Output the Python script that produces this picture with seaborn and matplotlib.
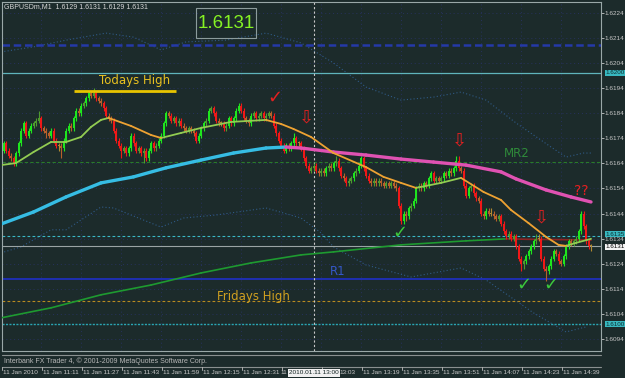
import numpy as np
import pandas as pd
import matplotlib
matplotlib.use("Agg")
import matplotlib.pyplot as plt
import seaborn as sns
from matplotlib.lines import Line2D
from matplotlib.patches import Rectangle

sns.set_style("dark")
plt.rcParams['font.family'] = ['Liberation Sans', 'DejaVu Sans']

BG = '#1c2b2b'
W, H = 625, 378

# ---------------- data (GBPUSDm M1, 11 Jan 2010, bars from 10:56) ----------------
first_open = 1.6169
closes = [1.6172,1.6169,1.6167,1.6166,1.6164,1.6168,1.6172,1.6177,1.6180,1.6175,
          1.6177,1.6179,1.6180,1.6181,1.6182,1.6178,1.6177,1.6176,1.6175,1.6177,
          1.6173,1.6171,1.6171,1.6170,1.6173,1.6177,1.6179,1.6178,1.6182,1.6185,
          1.6184,1.6187,1.6188,1.6190,1.6192,1.6191,1.6192,1.6190,1.6189,1.6188,
          1.6186,1.6183,1.6182,1.6181,1.6177,1.6173,1.6171,1.6169,1.6170,1.6168,
          1.6170,1.6175,1.6172,1.6169,1.6170,1.6168,1.6169,1.6166,1.6169,1.6172,
          1.6170,1.6171,1.6173,1.6175,1.6180,1.6184,1.6183,1.6181,1.6182,1.6180,
          1.6181,1.6179,1.6178,1.6177,1.6178,1.6177,1.6176,1.6173,1.6175,1.6178,
          1.6180,1.6181,1.6185,1.6186,1.6184,1.6181,1.6180,1.6180,1.6178,1.6179,
          1.6182,1.6180,1.6182,1.6185,1.6187,1.6185,1.6182,1.6181,1.6180,1.6183,
          1.6184,1.6182,1.6183,1.6184,1.6182,1.6183,1.6184,1.6183,1.6179,1.6176,
          1.6173,1.6171,1.6169,1.6171,1.6170,1.6172,1.6174,1.6172,1.6172,1.6170,
          1.6166,1.6163,1.6161,1.6162,1.6163,1.6161,1.6160,1.6161,1.6160,1.6162,
          1.6163,1.6162,1.6164,1.6165,1.6162,1.6159,1.6158,1.6156,1.6157,1.6158,
          1.6160,1.6161,1.6163,1.6166,1.6162,1.6159,1.6157,1.6156,1.6157,1.6156,
          1.6157,1.6156,1.6155,1.6156,1.6155,1.6156,1.6155,1.6154,1.6147,1.6141,
          1.6144,1.6143,1.6146,1.6147,1.6149,1.6154,1.6155,1.6154,1.6156,1.6155,
          1.6158,1.6160,1.6157,1.6158,1.6157,1.6158,1.6160,1.6159,1.6161,1.6160,
          1.6162,1.6165,1.6162,1.6161,1.6155,1.6151,1.6154,1.6155,1.6152,1.6150,
          1.6149,1.6144,1.6143,1.6145,1.6144,1.6144,1.6143,1.6142,1.6143,1.6140,
          1.6137,1.6135,1.6136,1.6134,1.6135,1.6131,1.6126,1.6124,1.6125,1.6127,
          1.6129,1.6131,1.6133,1.6134,1.6134,1.6126,1.6122,1.6121,1.6123,1.6126,
          1.6129,1.6128,1.6125,1.6124,1.6127,1.6131,1.6133,1.6132,1.6133,1.6134,
          1.6137,1.6144,1.6139,1.6133,1.6131,1.6131]
highs = [1.6173,1.6173,1.6170,1.6168,1.6167,1.6169,1.6173,1.6178,1.6181,1.6181,
         1.6178,1.6180,1.6181,1.6182,1.6185,1.6183,1.6179,1.6178,1.6177,1.6178,
         1.6178,1.6174,1.6172,1.6172,1.6174,1.6178,1.6180,1.6180,1.6183,1.6186,
         1.6186,1.6188,1.6189,1.6191,1.6193,1.6193,1.6194,1.6193,1.6191,1.6190,
         1.6189,1.6187,1.6184,1.6183,1.6182,1.6178,1.6174,1.6172,1.6171,1.6171,
         1.6171,1.6176,1.6176,1.6173,1.6171,1.6171,1.6170,1.6170,1.6170,1.6173,
         1.6173,1.6172,1.6174,1.6176,1.6181,1.6185,1.6185,1.6184,1.6183,1.6183,
         1.6182,1.6182,1.6180,1.6179,1.6179,1.6179,1.6178,1.6177,1.6176,1.6179,
         1.6181,1.6182,1.6186,1.6187,1.6187,1.6185,1.6182,1.6181,1.6181,1.6180,
         1.6183,1.6183,1.6183,1.6186,1.6188,1.6188,1.6186,1.6183,1.6182,1.6184,
         1.6185,1.6185,1.6184,1.6185,1.6185,1.6184,1.6185,1.6185,1.6184,1.6180,
         1.6177,1.6174,1.6172,1.6172,1.6172,1.6173,1.6176,1.6175,1.6173,1.6173,
         1.6171,1.6167,1.6164,1.6163,1.6164,1.6164,1.6162,1.6162,1.6162,1.6163,
         1.6164,1.6164,1.6165,1.6167,1.6166,1.6163,1.6160,1.6159,1.6158,1.6159,
         1.6161,1.6162,1.6164,1.6167,1.6167,1.6163,1.6160,1.6158,1.6158,1.6158,
         1.6158,1.6158,1.6157,1.6157,1.6157,1.6157,1.6157,1.6156,1.6155,1.6148,
         1.6145,1.6145,1.6147,1.6148,1.6150,1.6155,1.6156,1.6156,1.6157,1.6157,
         1.6159,1.6161,1.6161,1.6159,1.6159,1.6159,1.6161,1.6161,1.6162,1.6162,
         1.6163,1.6167,1.6167,1.6163,1.6162,1.6156,1.6155,1.6156,1.6156,1.6153,
         1.6151,1.6150,1.6145,1.6146,1.6146,1.6146,1.6145,1.6144,1.6144,1.6144,
         1.6141,1.6138,1.6137,1.6137,1.6136,1.6136,1.6132,1.6127,1.6126,1.6128,
         1.6130,1.6132,1.6134,1.6136,1.6136,1.6135,1.6127,1.6123,1.6124,1.6127,
         1.6130,1.6130,1.6129,1.6126,1.6128,1.6132,1.6134,1.6134,1.6134,1.6135,
         1.6138,1.6145,1.6145,1.6140,1.6134,1.6132]
lows = [1.6168,1.6168,1.6166,1.6165,1.6163,1.6163,1.6167,1.6171,1.6176,1.6174,
        1.6174,1.6176,1.6178,1.6179,1.6180,1.6177,1.6176,1.6174,1.6174,1.6174,
        1.6172,1.6170,1.6169,1.6166,1.6169,1.6172,1.6176,1.6177,1.6177,1.6181,
        1.6183,1.6183,1.6186,1.6187,1.6189,1.6190,1.6190,1.6189,1.6188,1.6187,
        1.6185,1.6182,1.6181,1.6180,1.6176,1.6172,1.6170,1.6166,1.6168,1.6167,
        1.6167,1.6169,1.6171,1.6168,1.6168,1.6167,1.6164,1.6165,1.6165,1.6168,
        1.6169,1.6169,1.6170,1.6172,1.6174,1.6179,1.6182,1.6180,1.6180,1.6179,
        1.6179,1.6178,1.6177,1.6176,1.6176,1.6176,1.6175,1.6172,1.6172,1.6174,
        1.6177,1.6179,1.6180,1.6184,1.6183,1.6180,1.6179,1.6179,1.6177,1.6177,
        1.6178,1.6179,1.6179,1.6181,1.6184,1.6184,1.6181,1.6180,1.6179,1.6179,
        1.6182,1.6181,1.6181,1.6182,1.6181,1.6181,1.6182,1.6182,1.6178,1.6175,
        1.6172,1.6170,1.6168,1.6168,1.6169,1.6169,1.6171,1.6171,1.6171,1.6169,
        1.6165,1.6162,1.6160,1.6160,1.6161,1.6160,1.6159,1.6159,1.6159,1.6159,
        1.6161,1.6161,1.6161,1.6163,1.6161,1.6158,1.6157,1.6155,1.6155,1.6156,
        1.6157,1.6159,1.6160,1.6162,1.6161,1.6158,1.6156,1.6155,1.6155,1.6155,
        1.6155,1.6155,1.6154,1.6154,1.6154,1.6154,1.6154,1.6153,1.6146,1.6140,
        1.6140,1.6141,1.6142,1.6145,1.6146,1.6148,1.6153,1.6153,1.6153,1.6154,
        1.6154,1.6157,1.6156,1.6156,1.6156,1.6156,1.6157,1.6158,1.6158,1.6159,
        1.6159,1.6161,1.6161,1.6160,1.6154,1.6150,1.6150,1.6153,1.6151,1.6149,
        1.6148,1.6143,1.6142,1.6142,1.6143,1.6143,1.6142,1.6141,1.6141,1.6139,
        1.6136,1.6134,1.6134,1.6133,1.6133,1.6130,1.6125,1.6121,1.6122,1.6124,
        1.6126,1.6128,1.6130,1.6132,1.6133,1.6125,1.6121,1.6117,1.6120,1.6122,
        1.6125,1.6127,1.6124,1.6123,1.6123,1.6126,1.6130,1.6131,1.6131,1.6132,
        1.6133,1.6136,1.6138,1.6132,1.6130,1.6129]

# fast MA (green rising / orange falling)
fast_x = [0,6,13,20,26,32,36,40,43,52,60,64,72,80,92,106,112,117,124,133,146,153,160,166,176,184,193,200,204,211,218,223,226,230,236]
fast_y = [1.61633,1.61641,1.61685,1.61725,1.61725,1.61745,1.61785,1.61813,1.61821,1.61789,1.61753,1.61741,1.61761,1.61781,1.61805,1.61813,1.61797,1.61777,1.61745,1.61681,1.61625,1.61586,1.61562,1.61542,1.61562,1.61582,1.61526,1.61494,1.61454,1.61402,1.61347,1.61315,1.61311,1.61323,1.61339]
# slow MA (cyan rising / magenta falling)
slow_x = [0,13,26,40,53,66,80,93,106,114,120,133,146,160,173,186,200,206,218,228,236]
slow_y = [1.61398,1.61446,1.61506,1.61562,1.61586,1.61622,1.61653,1.61681,1.61701,1.61705,1.61701,1.61685,1.61673,1.61657,1.61645,1.61633,1.61606,1.61578,1.61534,1.61506,1.61486]
# long MA (green rising / dark red falling)
long_x = [0,20,40,60,80,100,120,133,160,186,202,212,224,236]
long_y = [1.61024,1.61064,1.61116,1.61155,1.61203,1.61243,1.61275,1.61287,1.61315,1.61331,1.61339,1.61337,1.61336,1.61334]
# envelope bands (dotted)
up_x = [0,13,26,42,53,64,74,90,106,120,133,146,160,173,184,194,206,220,226,233,236]
up_y = [1.62084,1.62104,1.62131,1.62159,1.62143,1.62092,1.62124,1.62131,1.62159,1.62120,1.62040,1.61944,1.61892,1.61904,1.61924,1.61892,1.61801,1.61705,1.61665,1.61681,1.61681]
lo_x = [0,8,20,26,40,45,64,73,86,106,120,128,133,146,164,184,194,213,226,234]
lo_y = [1.61283,1.61307,1.61375,1.61375,1.61466,1.61462,1.61386,1.61422,1.61434,1.61462,1.61422,1.61363,1.61307,1.61235,1.61187,1.61223,1.61175,1.61044,1.60968,1.60988]

# horizontal levels
lvl_blue_dash = 1.6211
lvl_cyan = 1.6200
lvl_mr2 = 1.61645
lvl_1635 = 1.6135
lvl_last = 1.6131
lvl_r1 = 1.6118
lvl_fri = 1.6109
lvl_1600 = 1.6100
todays_high = 1.6193
todays_high_span = [29, 70]
vline_bar = 125  # 13:00

price_ticks = [1.6094,1.6104,1.6114,1.6124,1.6134,1.6144,1.6154,1.6164,1.6174,1.6184,1.6194,1.6204,1.6214,1.6224]
time_labels = ["11 Jan 2010","11 Jan 11:11","11 Jan 11:27","11 Jan 11:43","11 Jan 11:59","11 Jan 12:15",
               "11 Jan 12:31","11","13:03","11 Jan 13:19","11 Jan 13:35","11 Jan 13:51",
               "11 Jan 14:07","11 Jan 14:23","11 Jan 14:39"]
time_label_bars = [0,16,32,48,64,80,96,112,128,144,160,176,192,208,224]

# ---------------- figure ----------------
fig = plt.figure(figsize=(W/100, H/100), dpi=100, facecolor=BG)
def fx(x): return x / W
def fy(y): return 1 - y / H

ax = fig.add_axes([fx(2), fy(351), fx(601) - fx(2), fy(2) - fy(351)])
ax.set_facecolor(BG)
ax.set_xlim(0.4, 240)
ax.set_ylim(1.60892, 1.62283)

# grid
for t in price_ticks:
    ax.axhline(t, color='#27325e', lw=0.7, ls=(0, (1, 3)), zorder=0)
for b in time_label_bars:
    ax.axvline(b, color='#27325e', lw=0.7, ls=(0, (1, 3)), zorder=0)

# bands
sns.lineplot(x=up_x, y=up_y, ax=ax, color='#2f5a86', lw=0.8, linestyle=(0, (1, 2)), zorder=1)
sns.lineplot(x=lo_x, y=lo_y, ax=ax, color='#2f5a86', lw=0.8, linestyle=(0, (1, 2)), zorder=1)

# levels
ax.axhline(lvl_blue_dash, color='#2539a8', lw=1.8, ls=(0, (3, 1.5)), zorder=2)
ax.axhline(lvl_cyan, color='#5fb4bc', lw=0.9, zorder=2)
ax.axhline(lvl_mr2, color='#2a7a2a', lw=0.8, ls=(0, (3, 2)), zorder=2)
ax.axhline(lvl_1635, color='#3ab8c8', lw=0.8, ls=(0, (2.5, 2)), zorder=2)
ax.axhline(lvl_last, color='#9aa4a4', lw=0.8, zorder=2)
ax.axhline(lvl_r1, color='#1f2fb0', lw=1.4, zorder=2)
ax.axhline(lvl_fri, color='#b88a20', lw=0.8, ls=(0, (2.5, 2)), zorder=2)
ax.axhline(lvl_1600, color='#2aa6b4', lw=1.0, ls=(0, (1.5, 1)), zorder=2)
ax.axvline(vline_bar, color='#c8c8c8', lw=0.8, ls=(0, (2, 2)), zorder=2)
ax.plot(todays_high_span, [todays_high, todays_high], color='#e8c400', lw=2, zorder=5, solid_capstyle='butt')

def slope_df(xs, ys, up, down):
    rows = []
    for k in range(len(xs) - 1):
        d = up if ys[k + 1] >= ys[k] else down
        rows.append((xs[k], ys[k], k, d))
        rows.append((xs[k + 1], ys[k + 1], k, d))
    return pd.DataFrame(rows, columns=['x', 'y', 'seg', 'dir'])

# long MA
df_long = slope_df(long_x, long_y, 'up', 'down')
sns.lineplot(data=df_long, x='x', y='y', hue='dir', units='seg', estimator=None, sort=False,
             palette={'up': '#1e9a30', 'down': '#8a2424'}, lw=1.2, legend=False, ax=ax, zorder=3)

# candles
opens = [first_open] + closes[:-1]
idx = np.arange(1, len(closes) + 1)
cols = []
for o, c in zip(opens, closes):
    d = round((c - o) * 10000)
    if d >= 2: cols.append('#1ee61e')
    elif d == 1: cols.append('#4f9a2e')
    elif d <= -2: cols.append('#f01818')
    elif d == -1: cols.append('#b8602a')
    else: cols.append('#b08a30')
o_arr = np.array(opens); c_arr = np.array(closes)
bot = np.minimum(o_arr, c_arr)
hgt = np.maximum(np.abs(c_arr - o_arr), 0.00004)
ax.vlines(idx, lows, highs, colors=cols, lw=0.8, zorder=4)
ax.bar(idx, hgt, bottom=bot, width=0.8, color=cols, lw=0, zorder=4)

# fast & slow MAs
df_slow = slope_df(slow_x, slow_y, 'up', 'down')
sns.lineplot(data=df_slow, x='x', y='y', hue='dir', units='seg', estimator=None, sort=False,
             palette={'up': '#36bde4', 'down': '#e052b2'}, lw=2.4, legend=False, ax=ax, zorder=5)
df_fast = slope_df(fast_x, fast_y, 'up', 'down')
sns.lineplot(data=df_fast, x='x', y='y', hue='dir', units='seg', estimator=None, sort=False,
             palette={'up': '#92cc52', 'down': '#eea232'}, lw=1.3, legend=False, ax=ax, zorder=6)

# axes styling
ax.set_xlabel(''); ax.set_ylabel('')
ax.set_xticks([])
ax.yaxis.tick_right()
ax.set_yticks(price_ticks)
ax.set_yticklabels([f"{t:.4f}" for t in price_ticks])
ax.tick_params(axis='y', colors='#c8c8c8', labelsize=4.6, length=2, width=0.6, pad=0.5, right=True, left=False)
ax.grid(False)
for s in ['left', 'top', 'right', 'bottom']:
    ax.spines[s].set_color('#9aa8a8')
    ax.spines[s].set_linewidth(0.8)

# text annotations
ax.text(53.6, 1.61972, "Todays High", color='#e8c020', fontsize=8.5, ha='center', va='center',
        family=['DejaVu Sans'], zorder=7)
ax.text(101, 1.61108, "Fridays High", color='#d0a020', fontsize=8.5, ha='center', va='center',
        family=['DejaVu Sans'], zorder=7)
ax.text(206.4, 1.61681, "MR2", color='#2f8a3a', fontsize=8.5, ha='center', va='center',
        family=['DejaVu Sans'], zorder=7)
ax.text(134.6, 1.61207, "R1", color='#3558c8', fontsize=8.5, ha='center', va='center',
        family=['DejaVu Sans'], zorder=7)
red = '#e42020'; grn = '#3cc83c'
ax.text(109.6, 1.61900, "\u2713", color=red, fontsize=13, ha='center', va='center', family=['DejaVu Sans'], zorder=7)
for (bx, py) in [(122, 1.61822), (183.2, 1.61730), (216, 1.61425)]:
    ax.text(bx, py, "\u21e9", color=red, fontsize=13, ha='center', va='center', family=['DejaVu Sans'], zorder=7)
for (bx, py) in [(159.6, 1.61365), (209.2, 1.61156), (220, 1.61156)]:
    ax.text(bx, py, "\u2713", color=grn, fontsize=13, ha='center', va='center', family=['DejaVu Sans'], zorder=7)
ax.text(232, 1.61530, "??", color=red, fontsize=10, ha='center', va='center', family=['DejaVu Sans'], zorder=7)

# big price box
fig.add_artist(Rectangle((fx(196), fy(38)), fx(256) - fx(196), fy(8) - fy(38),
                         transform=fig.transFigure, fill=False, ec='#8c9c9c', lw=0.8))
fig.text(fx(226), fy(23), "1.6131", color='#86f224', fontsize=13.5, ha='center', va='center')

# header
fig.text(fx(4), fy(6.5), "GBPUSDm,M1  1.6129 1.6131 1.6129 1.6131", color='#d8d8d8', fontsize=5, ha='left', va='center')

# right price boxes
for (py, txt, bg, tc) in [(73, "1.6200", '#38b8c0', '#0c2e30'), (234, "1.6135", '#38b8c0', '#0c2e30'),
                          (246.5, "1.6131", '#f4f4f4', '#000000'), (324, "1.6100", '#38b8c0', '#0c2e30')]:
    fig.text(fx(605), fy(py), txt, color=tc, fontsize=4.5, ha='left', va='center',
             bbox=dict(boxstyle='square,pad=0.08', fc=bg, ec='none'))

# bottom strip
for yy in [354.5, 366.5]:
    fig.add_artist(Line2D([fx(2), fx(601)], [fy(yy), fy(yy)], transform=fig.transFigure, color='#8a9090', lw=0.8))
fig.text(fx(4), fy(361), "Interbank FX Trader 4, \u00a9 2001-2009 MetaQuotes Software Corp.",
         color='#b8b8b8', fontsize=5, ha='left', va='center')
for k, lab in enumerate(time_labels):
    xp = 1 + 2.5 * time_label_bars[k] + 1
    fig.add_artist(Line2D([fx(xp), fx(xp)], [fy(367), fy(370)], transform=fig.transFigure, color='#c0c0c0', lw=0.6))
    tx = xp + 1
    if lab == "11":
        tx = 280
    if lab == "13:03":
        tx = 339
    fig.text(fx(tx), fy(373), lab, color='#c8c8c8', fontsize=4.6, ha='left', va='center')
fig.text(fx(289), fy(373), "2010.01.11 13:00", color='#102020', fontsize=4.6, ha='left', va='center',
         bbox=dict(boxstyle='square,pad=0.2', fc='#f0f0f0', ec='none'))

fig.savefig("out.png", dpi=100, facecolor=BG)
